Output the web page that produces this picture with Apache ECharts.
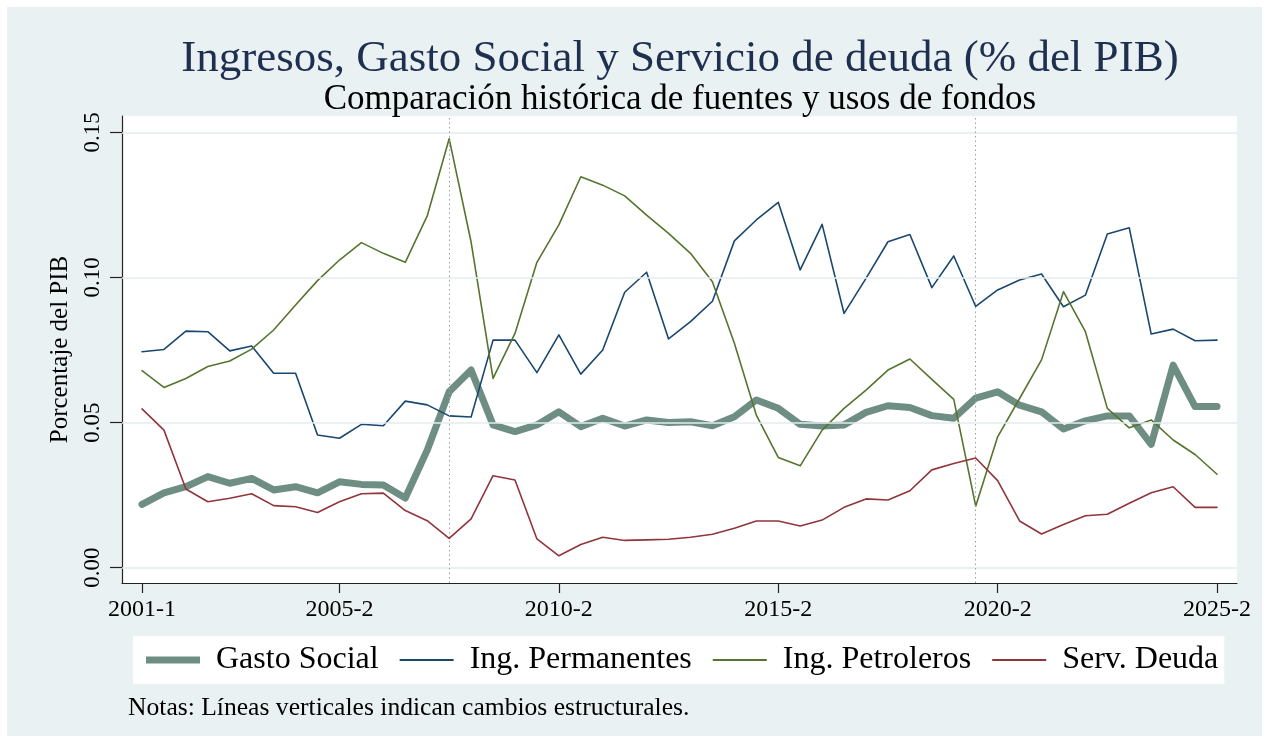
<!DOCTYPE html>
<html>
<head>
<meta charset="utf-8">
<script src="https://cdn.jsdelivr.net/npm/echarts@6/dist/echarts.min.js"></script>
<style>
html,body{margin:0;padding:0;background:#fff;}
#c{width:1268px;height:742px;}
</style>
</head>
<body>
<div id="c"></div>
<script>
const categories = ['2001-1','2001-2','2002-1','2002-2','2003-1','2003-2','2004-1','2004-2','2005-1','2005-2',
  '2006-1','2006-2','2007-1','2007-2','2008-1','2008-2','2009-1','2009-2','2010-1','2010-2',
  '2011-1','2011-2','2012-1','2012-2','2013-1','2013-2','2014-1','2014-2','2015-1','2015-2',
  '2016-1','2016-2','2017-1','2017-2','2018-1','2018-2','2019-1','2019-2','2020-1','2020-2',
  '2021-1','2021-2','2022-1','2022-2','2023-1','2023-2','2024-1','2024-2','2025-1','2025-2'];

const gastoSocial = [0.0218,0.0258,0.0279,0.0314,0.0291,0.0308,0.0268,0.0279,0.0258,0.0296,
  0.0287,0.0285,0.0240,0.0405,0.0606,0.0681,0.0492,0.0469,0.0492,0.0537,
  0.0486,0.0515,0.0488,0.0509,0.0500,0.0503,0.0489,0.0520,0.0578,0.0549,
  0.0494,0.0488,0.0492,0.0535,0.0558,0.0552,0.0524,0.0515,0.0584,0.0606,
  0.0560,0.0537,0.0478,0.0506,0.0523,0.0523,0.0425,0.0698,0.0555,0.0555];

const ingPermanentes = [0.0744,0.0752,0.0815,0.0813,0.0747,0.0764,0.0670,0.0670,0.0457,0.0446,
  0.0494,0.0489,0.0574,0.0561,0.0523,0.0519,0.0784,0.0784,0.0672,0.0802,
  0.0667,0.0750,0.0949,0.1018,0.0788,0.0848,0.0918,0.1126,0.1198,0.1259,
  0.1026,0.1183,0.0876,0.0997,0.1123,0.1148,0.0965,0.1074,0.0900,0.0957,
  0.0991,0.1012,0.0899,0.0939,0.1150,0.1171,0.0805,0.0822,0.0782,0.0784];

const ingPetroleros = [0.0679,0.0621,0.0652,0.0693,0.0712,0.0753,0.0819,0.0905,0.0989,0.1060,
  0.1120,0.1083,0.1052,0.1212,0.1478,0.1122,0.0652,0.0807,0.1052,0.1181,
  0.1347,0.1318,0.1281,0.1215,0.1152,0.1083,0.0985,0.0773,0.0526,0.0380,
  0.0351,0.0474,0.0549,0.0612,0.0681,0.0719,0.0649,0.0580,0.0212,0.0451,
  0.0583,0.0716,0.0951,0.0813,0.0549,0.0482,0.0509,0.0440,0.0390,0.0322];

const servDeuda = [0.0547,0.0474,0.0271,0.0227,0.0239,0.0255,0.0214,0.0210,0.0190,0.0227,
  0.0255,0.0257,0.0197,0.0162,0.0101,0.0168,0.0317,0.0302,0.0099,0.0041,
  0.0080,0.0105,0.0094,0.0096,0.0098,0.0105,0.0115,0.0136,0.0161,0.0161,
  0.0144,0.0164,0.0208,0.0237,0.0233,0.0265,0.0337,0.0359,0.0378,0.0300,
  0.0161,0.0116,0.0149,0.0179,0.0184,0.0222,0.0258,0.0279,0.0208,0.0208];

const xTickLabels = ['2001-1','2005-2','2010-2','2015-2','2020-2','2025-2'];
const yTicks = [0, 0.05, 0.10, 0.15];
const structuralBreaks = ['2008-1','2020-1'];

const seriesNames = ['Gasto Social','Ing. Permanentes','Ing. Petroleros','Serv. Deuda'];
const seriesValues = [gastoSocial, ingPermanentes, ingPetroleros, servDeuda];
const seriesColors = ['#6e8e84','#1a476f','#55752f','#90353b'];
const seriesWidths = [7, 1.6, 1.6, 1.6];

const FONT = "'Liberation Serif', 'Times New Roman', serif";
const xTickIdx = xTickLabels.map(l => categories.indexOf(l));
const breakIdx = structuralBreaks.map(l => categories.indexOf(l));

const chart = echarts.init(document.getElementById('c'), null, {renderer: 'canvas'});

const series = [{
  type: 'line', name: '_ref', data: [], silent: true, z: 1,
  markLine: {
    silent: true, symbol: ['none','none'], label: {show: false}, animation: false,
    data: yTicks.map(v => ({yAxis: v, lineStyle: {color: '#e3ecee', width: 1.5, type: 'solid'}}))
      .concat(breakIdx.map(i => ({xAxis: i, lineStyle: {color: '#a0a0a0', width: 1, type: [1.5, 3]}})))
  }
}].concat(seriesNames.map((n, k) => ({
  type: 'line', name: n, z: 2 + k,
  data: seriesValues[k].map((v, i) => [i, v]),
  symbol: 'none', showSymbol: false,
  color: seriesColors[k],
  lineStyle: {color: seriesColors[k], width: seriesWidths[k], cap: 'round', join: 'round'}
})));

chart.setOption({
  animation: false,
  backgroundColor: '#ffffff',
  graphic: {elements: [{type: 'rect', z: -10, silent: true, shape: {x: 7, y: 7, width: 1255, height: 729}, style: {fill: '#eaf1f3'}}]},
  title: [
    {text: 'Ingresos, Gasto Social y Servicio de deuda (% del PIB)', left: 680, top: 34, textAlign: 'center', padding: 0,
     textStyle: {fontFamily: FONT, fontSize: 45, fontWeight: 'normal', color: '#1e2f50', lineHeight: 50}},
    {text: 'Comparación histórica de fuentes y usos de fondos', left: 680, top: 81, textAlign: 'center', padding: 0,
     textStyle: {fontFamily: FONT, fontSize: 35, fontWeight: 'normal', color: '#000', lineHeight: 38}},
    {text: 'Notas: Líneas verticales indican cambios estructurales.', left: 128, top: 695, padding: 0,
     textStyle: {fontFamily: FONT, fontSize: 25.6, fontWeight: 'normal', color: '#000', lineHeight: 26}}
  ],
  legend: {
    left: 133, top: 636, orient: 'horizontal', selectedMode: false,
    backgroundColor: '#ffffff', padding: [8, 6, 8, 13], itemGap: 21,
    itemWidth: 54, itemHeight: 7,
    itemStyle: {borderWidth: 0},
    textStyle: {fontFamily: FONT, fontSize: 32, color: '#000', padding: [0, 0, 0, 11]},
    data: seriesNames.map((n, k) => ({name: n, icon: k === 0 ? 'path://M0,0h54v7h-54z' : 'path://M0,0h54v2h-54z'}))
  },
  grid: {left: 122, top: 116, width: 1115, height: 467, show: true, backgroundColor: '#ffffff', borderWidth: 0, containLabel: false},
  xAxis: {
    type: 'value', min: -0.912, max: 49.91,
    axisLine: {show: true, onZero: false, lineStyle: {color: '#222', width: 1.2}},
    axisTick: {show: true, length: 10, customValues: xTickIdx, lineStyle: {color: '#222', width: 1.2}},
    axisLabel: {customValues: xTickIdx, formatter: v => categories[Math.round(v)], margin: 15,
      fontFamily: FONT, fontSize: 24, color: '#000'},
    splitLine: {show: false}
  },
  yAxis: {
    type: 'value', min: -0.00527, max: 0.15562,
    axisLine: {show: true, onZero: false, lineStyle: {color: '#222', width: 1.2}},
    axisTick: {show: true, length: 12, customValues: yTicks, lineStyle: {color: '#222', width: 1.2}},
    axisLabel: {customValues: yTicks, rotate: 90, margin: 18, formatter: v => v.toFixed(2),
      fontFamily: FONT, fontSize: 23, color: '#000'},
    splitLine: {show: false},
    name: 'Porcentaje del PIB', nameLocation: 'middle', nameRotate: 90, nameGap: 34,
    nameTextStyle: {fontFamily: FONT, fontSize: 25, color: '#000'}
  },
  series: series
});
</script>
</body>
</html>
